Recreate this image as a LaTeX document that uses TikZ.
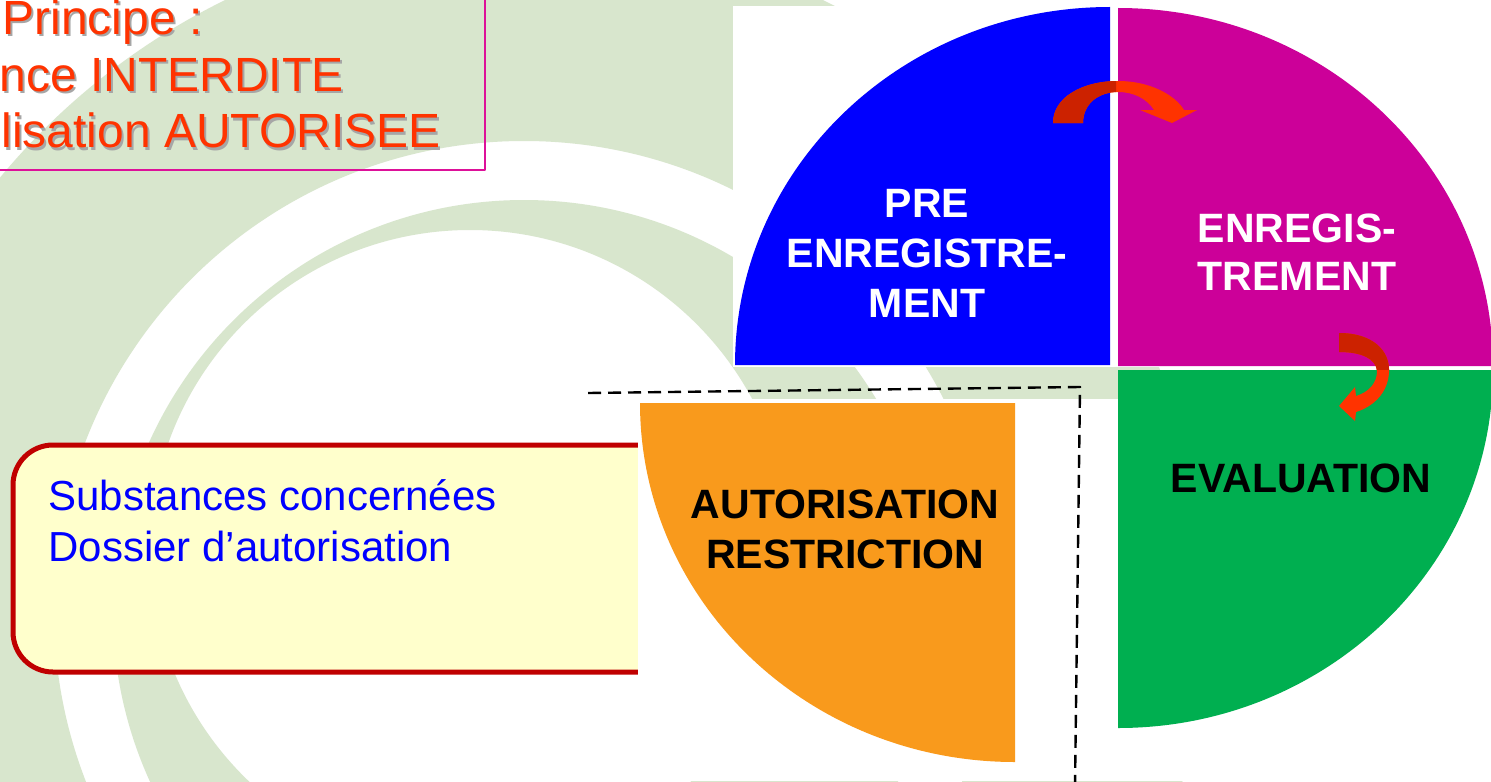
\documentclass[tikz,border=0pt]{standalone}
\usepackage{fontspec}
\setmainfont{Liberation Sans}
\definecolor{bggreen}{RGB}{216,230,205}
\definecolor{qblue}{HTML}{0000FF}
\definecolor{qmag}{HTML}{CC0099}
\definecolor{qgreen}{HTML}{00AF50}
\definecolor{qorange}{HTML}{F99A1C}
\definecolor{arrdark}{HTML}{CC2200}
\definecolor{arrbright}{HTML}{FF3300}
\definecolor{titlered}{HTML}{FF3300}
\definecolor{boxyellow}{HTML}{FFFFCC}
\definecolor{boxred}{HTML}{C00000}
\definecolor{boxmag}{HTML}{DD1199}
\begin{document}
\begin{tikzpicture}[x=0.5pt,y=-0.5pt,line join=round,
  quadlabel/.style={font=\fontsize{20.5pt}{25pt}\selectfont\bfseries,align=center,inner sep=0pt},
  boxtext/.style={font=\fontsize{21pt}{25pt}\selectfont,text=qblue,anchor=base west,inner sep=0pt},
  titletext/.style={font=\fontsize{24pt}{28pt}\selectfont,anchor=base west,inner sep=0pt},
  dashline/.style={draw=black,line width=1.2pt,dash pattern=on 6.5pt off 3.5pt}]
\useasboundingbox (0,0) rectangle (1491,781);
\clip (0,0) rectangle (1491,781);
\fill[white] (0,0) rectangle (1491,781);
% background swoosh
\fill[bggreen,even odd rule] (524,611) circle[radius=340pt] (524,611) circle[radius=235pt];
\fill[bggreen,even odd rule] (524,611) circle[radius=205.5pt] (470,550) circle[radius=160pt];
% title box
\draw[boxmag,line width=1pt] (-10,-10) -- (485,-10) -- (485,170) -- (-10,170);
\foreach \dx/\col in {2/gray!70,0/titlered}{
  \node[titletext,text=\col] (t1\dx) at (2+\dx,35+\dx) {Principe :};
  \node[titletext,text=\col] (t2\dx) at (-1+\dx,91+\dx) {nce INTERDITE};
  \node[titletext,text=\col] (t3\dx) at (1+\dx,148+\dx) {lisation AUTORISEE};
}
% yellow box
\draw[boxred,fill=boxyellow,line width=2.5pt,rounded corners=20pt] (13,445) rectangle (720,672);
\node[boxtext] (b1) at (48,510) {Substances concernées};
\node[boxtext] (b2) at (48,561) {Dossier d’autorisation};
% white backgrounds of the pie
\fill[white] (733,6) rectangle (1491,367);
\fill[white] (638,399) rectangle (1491,781);
% quadrants
\fill[qblue] (1110,365) -- (735,365) arc[start angle=180,end angle=90,x radius=187.5pt,y radius=179pt] -- cycle;
\fill[qmag] (1118,366) -- (1118,8) arc[start angle=90,end angle=0,x radius=187.5pt,y radius=179pt] -- cycle;
\fill[qgreen] (1118,370) -- (1493,370) arc[start angle=0,end angle=-90,x radius=187.5pt,y radius=179pt] -- cycle;
\fill[qorange] (1015,403) -- (1015,762) arc[start angle=270,end angle=180,x radius=187.5pt,y radius=179.5pt] -- cycle;
% labels
\node[quadlabel,text=white] (pre) at (927,253) {PRE\\ENREGISTRE-\\MENT};
\node[quadlabel,text=white,font=\fontsize{20.5pt}{24pt}\selectfont\bfseries] (enr) at (1297,252) {ENREGIS-\\TREMENT};
\node[quadlabel,text=black] (eva) at (1301,478) {EVALUATION};
\node[quadlabel,text=black] (aut) at (845,529) {AUTORISATION\\RESTRICTION};
% curved arrows
\def\ArrOnePath{(1053,123) .. controls (1053,97) and (1083,81) .. (1118,81) .. controls (1150,81) and (1175,95) .. (1184,110) -- (1197,110) -- (1172,123) -- (1140,110) -- (1154,110) .. controls (1147,99) and (1134,92) .. (1118,92) .. controls (1098,92) and (1083,104) .. (1083,123) -- cycle}
\def\ArrTwoPath{(1339,333) .. controls (1372,333) and (1390,350) .. (1389,372) .. controls (1388,394) and (1372,407) .. (1356,412) -- (1355,421) -- (1339,406) -- (1355,387) -- (1356,396) .. controls (1369,392) and (1377,383) .. (1377,371) .. controls (1376,359) and (1362,352) .. (1339,352) -- cycle}
\fill[arrbright] \ArrOnePath;
\begin{scope}\clip (1000,0) rectangle (1116,200); \fill[arrdark] \ArrOnePath; \end{scope}
\fill[arrbright] \ArrTwoPath;
\begin{scope}\clip (1300,300) rectangle (1420,369); \fill[arrdark] \ArrTwoPath; \end{scope}
% dashed frame
\coordinate (dl) at (588,393);
\coordinate (dc) at (1080,387);
\coordinate (db) at (1075,785);
\draw[dashline] (dl) -- (dc) -- (db);
\end{tikzpicture}
\end{document}
